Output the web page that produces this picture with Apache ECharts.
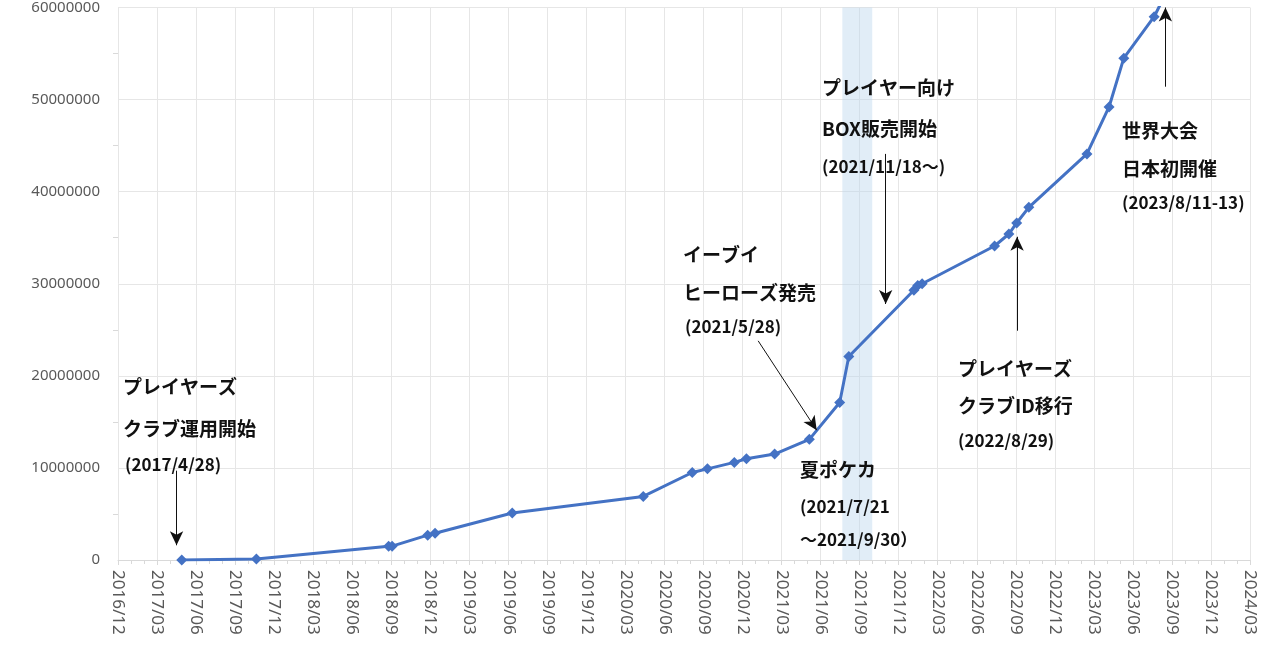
<!DOCTYPE html>
<html>
<head>
<meta charset="utf-8">
<script src="https://cdn.jsdelivr.net/npm/echarts@6/dist/echarts.min.js"></script>
<style>html,body{margin:0;padding:0;background:#fff}#main{width:1280px;height:670px}</style>
</head>
<body>
<div id="main"></div>
<script>
// 日付（推定）と累計値
const dates = ['2017/4/28','2017/10/20','2018/8/25','2018/9/3','2018/11/25','2018/12/12','2019/6/10',
  '2020/4/12','2020/8/5','2020/9/10','2020/11/12','2020/12/10','2021/2/15','2021/5/5','2021/7/15',
  '2021/8/6','2022/1/6','2022/1/15','2022/1/25','2022/7/12','2022/8/15','2022/9/3','2022/10/1',
  '2023/2/15','2023/4/6','2023/5/10','2023/7/20','2023/8/6'];
const values = [10000,100000,1500000,1500000,2700000,2900000,5100000,
  6900000,9500000,9900000,10600000,11000000,11500000,13100000,17100000,
  22100000,29300000,29800000,30000000,34100000,35400000,36600000,38300000,
  44100000,49200000,54500000,59000000,60500000];
const yTicks = [0,10000000,20000000,30000000,40000000,50000000,60000000];

// 2016/12/1 からの月数
function mo(s) {
  const p = s.split('/').map(Number);
  return (p[0] - 2016) * 12 + (p[1] - 12) + ((p[2] || 1) - 1) / 30;
}
const data = dates.map((d, i) => [mo(d), values[i]]);

const myChart = echarts.init(document.getElementById('main'));

const arrow = (a, b) => [{ coord: a }, { coord: b }];

function txt(x, y, s, size) {
  return { type: 'text', left: x, top: y, z: 100, style: { text: s, fontSize: size || 19,
    fontFamily: 'Noto Sans CJK JP', fontWeight: 'bold', fill: '#111' } };
}

const option = {
  animation: false,
  grid: { left: 118, right: 30, top: 5, bottom: 110 },
  xAxis: {
    type: 'value', min: 0, max: 87, interval: 3,
    axisLine: { lineStyle: { color: '#d9d9d9' } },
    axisTick: { show: true, length: 5, lineStyle: { color: '#d9d9d9' } },
    minorTick: { show: true, splitNumber: 3, length: 4, lineStyle: { color: '#d9d9d9' } },
    splitLine: { show: true, lineStyle: { color: '#e6e6e6' } },
    axisLabel: {
      rotate: -90, color: '#595959', fontSize: 17, fontFamily: 'Noto Sans', margin: 10,
      formatter: v => {
        const t = Math.round(v) + 11;
        const y = 2016 + Math.floor(t / 12);
        const m = t % 12 + 1;
        return y + '/' + (m < 10 ? '0' + m : m);
      }
    }
  },
  yAxis: {
    type: 'value', min: yTicks[0], max: yTicks[yTicks.length - 1], interval: 10000000,
    axisLine: { show: false },
    axisTick: { show: false },
    minorTick: { show: true, splitNumber: 2, length: 5, lineStyle: { color: '#d9d9d9' } },
    splitLine: { lineStyle: { color: '#e6e6e6' } },
    axisLabel: { color: '#595959', fontSize: 15, fontFamily: 'Noto Sans', margin: 18,
      formatter: v => String(v) }
  },
  series: [{
    type: 'line', data: data, symbol: 'diamond', symbolSize: 11, z: 3,
    lineStyle: { color: '#4472C4', width: 3 },
    itemStyle: { color: '#4472C4' },
    markArea: {
      silent: true,
      itemStyle: { color: 'rgba(189,215,238,0.45)' },
      data: [[{ xAxis: mo('2021/7/21') }, { xAxis: mo('2021/9/30') }]]
    },
    markLine: {
      silent: true, symbol: ['none', 'arrow'], symbolSize: [10, 14],
      label: { show: false },
      lineStyle: { color: '#111', width: 1, type: 'solid' },
      data: [
        arrow([4.5, 9700000], [4.5, 1600000]),
        arrow([49.2, 23800000], [53.7, 14100000]),
        arrow([59.0, 44100000], [59.0, 27800000]),
        arrow([69.1, 24900000], [69.1, 35100000]),
        arrow([80.5, 51400000], [80.5, 60000000])
      ]
    }
  }],
  graphic: [
    txt(123, 377, 'プレイヤーズ'), txt(123, 419, 'クラブ運用開始'), txt(125, 456, '(2017/4/28)', 17),
    txt(683, 245, 'イーブイ'), txt(683, 283, 'ヒーローズ発売'), txt(685, 318, '(2021/5/28)', 17),
    txt(800, 460, '夏ポケカ'), txt(800, 498, '(2021/7/21', 17), txt(800, 531, '～2021/9/30）', 17),
    txt(822, 78, 'プレイヤー向け'), txt(822, 119, 'BOX販売開始'), txt(822, 158, '(2021/11/18～)', 17),
    txt(958, 359, 'プレイヤーズ'), txt(958, 396, 'クラブID移行'), txt(958, 432, '(2022/8/29)', 17),
    txt(1122, 121, '世界大会'), txt(1122, 159, '日本初開催'), txt(1122, 194, '(2023/8/11-13)', 17)
  ]
};

myChart.setOption(option);
</script>
</body>
</html>
